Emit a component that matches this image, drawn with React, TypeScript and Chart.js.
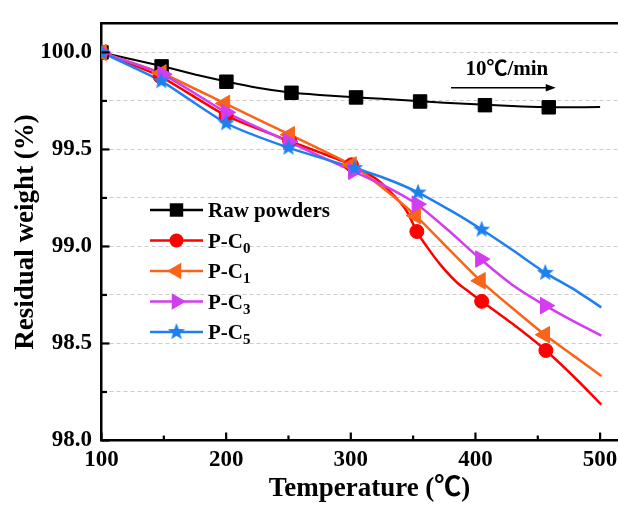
import React, { useEffect, useRef } from 'react';
import { Chart, registerables } from 'chart.js';

Chart.register(...registerables);

// ---------- data (temperature in ℃, residual weight in %) ----------
const rawTemp = [100, 125, 150, 175, 200, 225, 250, 275, 300, 325, 350, 375, 400, 425, 450, 475, 500];
const rawWeight = [100.0, 99.963, 99.927, 99.886, 99.85, 99.818, 99.795, 99.781, 99.77, 99.761, 99.751, 99.741, 99.733, 99.725, 99.719, 99.717, 99.719];
const rawMarkTemp = [100, 148.2, 200.2, 252.4, 304.2, 355.6, 407.6, 458.8];
const rawMarkWeight = [100.0, 99.928, 99.849, 99.792, 99.768, 99.747, 99.728, 99.717];

const c0Temp = [100, 147, 200, 251, 275, 300.5, 320, 335, 345, 353, 362, 372, 385, 395, 405, 430, 456.5, 480, 501];
const c0Weight = [100.0, 99.877, 99.674, 99.543, 99.485, 99.421, 99.35, 99.26, 99.18, 99.077, 98.99, 98.905, 98.815, 98.765, 98.717, 98.6, 98.464, 98.322, 98.185];
const c0MarkTemp = [100, 147, 200, 251, 300.5, 353, 405, 456.5];
const c0MarkWeight = [100.0, 99.877, 99.674, 99.543, 99.421, 99.077, 98.717, 98.464];

const c1Temp = [100, 148, 199, 251, 300.5, 325, 352, 378, 404, 430, 455.6, 478, 501];
const c1Weight = [100.0, 99.894, 99.737, 99.576, 99.42, 99.305, 99.159, 98.99, 98.823, 98.68, 98.545, 98.44, 98.332];
const c1MarkTemp = [100, 148, 199, 251, 300.5, 352, 404, 455.6];
const c1MarkWeight = [100.0, 99.894, 99.737, 99.576, 99.42, 99.159, 98.823, 98.545];

const c3Temp = [100, 149, 200, 250, 302, 328, 353, 378, 404, 430, 456, 480, 501];
const c3Weight = [100.0, 99.887, 99.691, 99.54, 99.387, 99.31, 99.218, 99.085, 98.935, 98.8, 98.695, 98.61, 98.54];
const c3MarkTemp = [100, 149, 200, 250, 302, 353, 404, 456];
const c3MarkWeight = [100.0, 99.887, 99.691, 99.54, 99.387, 99.218, 98.935, 98.695];

const c5Temp = [100, 148, 200, 250, 303, 330, 354, 382, 405, 430, 456, 480, 501];
const c5Weight = [100.0, 99.852, 99.635, 99.509, 99.404, 99.345, 99.278, 99.178, 99.087, 98.98, 98.864, 98.775, 98.686];
const c5MarkTemp = [100, 148, 200, 250, 303, 354, 405, 456];
const c5MarkWeight = [100.0, 99.852, 99.635, 99.509, 99.404, 99.278, 99.087, 98.864];

const seriesLabels = ['Raw powders', 'P-C₀', 'P-C₁', 'P-C₃', 'P-C₅'];
const seriesColors = ['#000000', '#ff0000', '#fa6419', '#d43cf0', '#1e80f0'];

const xTitle = 'Temperature (℃)';
const yTitle = 'Residual weight (%)';
const rateLabel = '10℃/min';
const rateArrowFrom = 380.4;
const rateArrowTo = 464.4;
const rateArrowWeight = 99.818;
const rateTextTemp = 425.2;
const rateTextWeight = 99.882;

const xMin = 100;
const xMax = 530;
const yMin = 98.0;
const yMax = 100.15;

const SERIF = '"Liberation Serif", "Times New Roman", "Noto Sans CJK SC", serif';
const SUBS = '₀₁₂₃₄₅₆₇₈₉';

function makeStar(color: string, outer: number, inner: number) {
  const size = Math.ceil(outer * 2 + 2);
  const c = document.createElement('canvas');
  c.width = size;
  c.height = size;
  const g = c.getContext('2d')!;
  g.beginPath();
  for (let i = 0; i < 10; i++) {
    const r = i % 2 === 0 ? outer : inner;
    const a = -Math.PI / 2 + (i * Math.PI) / 5;
    g.lineTo(size / 2 + r * Math.cos(a), size / 2 + r * Math.sin(a));
  }
  g.closePath();
  g.fillStyle = color;
  g.fill();
  return c;
}

type Marker = { style: any; rotation: number; radius: number };

function drawMarker(ctx: CanvasRenderingContext2D, m: Marker, x: number, y: number, color: string) {
  ctx.save();
  ctx.fillStyle = color;
  ctx.strokeStyle = color;
  ctx.lineWidth = 1;
  ctx.translate(x, y);
  ctx.rotate((m.rotation * Math.PI) / 180);
  if (typeof m.style !== 'string') {
    ctx.drawImage(m.style, -m.style.width / 2, -m.style.height / 2);
  } else if (m.style === 'rect') {
    const s = m.radius * Math.SQRT1_2;
    ctx.fillRect(-s, -s, 2 * s, 2 * s);
  } else if (m.style === 'circle') {
    ctx.beginPath();
    ctx.arc(0, 0, m.radius, 0, Math.PI * 2);
    ctx.fill();
  } else if (m.style === 'triangle') {
    ctx.beginPath();
    let a = 0;
    for (let k = 0; k < 3; k++) {
      ctx.lineTo(Math.sin(a) * m.radius, -Math.cos(a) * m.radius);
      a += (2 * Math.PI) / 3;
    }
    ctx.closePath();
    ctx.fill();
  }
  ctx.restore();
}

export default function App() {
  const ref = useRef<HTMLCanvasElement>(null);

  useEffect(() => {
    const canvas = ref.current!;
    const star = makeStar(seriesColors[4], 9, 3.8);
    const markers: Marker[] = [
      { style: 'rect', rotation: 0, radius: 9.5 },
      { style: 'circle', rotation: 0, radius: 7 },
      { style: 'triangle', rotation: -90, radius: 9.5 },
      { style: 'triangle', rotation: 90, radius: 9.5 },
      { style: star, rotation: 0, radius: 9 },
    ];
    const lines = [
      [rawTemp, rawWeight],
      [c0Temp, c0Weight],
      [c1Temp, c1Weight],
      [c3Temp, c3Weight],
      [c5Temp, c5Weight],
    ];
    const marks = [
      [rawMarkTemp, rawMarkWeight],
      [c0MarkTemp, c0MarkWeight],
      [c1MarkTemp, c1MarkWeight],
      [c3MarkTemp, c3MarkWeight],
      [c5MarkTemp, c5MarkWeight],
    ];
    const toXY = (t: number[], w: number[]) => t.map((x, i) => ({ x, y: w[i] }));
    const datasets: any[] = [];
    lines.forEach(([t, w], i) =>
      datasets.push({
        label: seriesLabels[i],
        data: toXY(t, w),
        borderColor: seriesColors[i],
        backgroundColor: seriesColors[i],
        borderWidth: i === 0 ? 2 : 2.5,
        pointRadius: 0,
        pointHoverRadius: 0,
        fill: false,
        tension: 0.2,
        order: 20 - i,
      })
    );
    marks.forEach(([t, w], i) =>
      datasets.push({
        label: seriesLabels[i] + ' symbols',
        data: toXY(t, w),
        showLine: false,
        pointStyle: markers[i].style,
        pointRotation: markers[i].rotation,
        pointRadius: markers[i].radius,
        pointHoverRadius: markers[i].radius,
        pointBackgroundColor: seriesColors[i],
        pointBorderColor: seriesColors[i],
        pointBorderWidth: 1,
        order: 10 - i,
      })
    );

    const framePlugin = {
      id: 'frameTicks',
      afterDraw(chart: any) {
        const { ctx, chartArea } = chart;
        const { left, right, top, bottom } = chartArea;
        const xs = chart.scales.x;
        const ys = chart.scales.y;
        ctx.save();
        ctx.strokeStyle = '#000';
        ctx.lineWidth = 2.5;
        ctx.beginPath();
        ctx.moveTo(left - 1.25, top);
        ctx.lineTo(right, top);
        ctx.stroke();
        ctx.lineWidth = 2.2;
        xs.ticks.forEach((t: any) => {
          const px = xs.getPixelForValue(t.value);
          const len = Math.abs(t.value % 100) < 1e-6 ? 8 : 5;
          ctx.beginPath();
          ctx.moveTo(px, bottom);
          ctx.lineTo(px, bottom - len);
          ctx.stroke();
        });
        ys.ticks.forEach((t: any) => {
          const py = ys.getPixelForValue(t.value);
          const major = Math.abs(t.value * 2 - Math.round(t.value * 2)) < 1e-6;
          const len = major ? 8 : 5.5;
          ctx.beginPath();
          ctx.moveTo(left, py);
          ctx.lineTo(left + len, py);
          ctx.stroke();
        });
        ctx.restore();
      },
    };

    const legendPlugin = {
      id: 'seriesLegend',
      afterDraw(chart: any) {
        const ctx: CanvasRenderingContext2D = chart.ctx;
        const x0 = 150;
        const x1 = 203;
        const textX = 208;
        const rowY = 210;
        const gap = 30.5;
        ctx.save();
        seriesLabels.forEach((label, i) => {
          const y = rowY + i * gap;
          ctx.strokeStyle = seriesColors[i];
          ctx.lineWidth = 2.5;
          ctx.beginPath();
          ctx.moveTo(x0, y);
          ctx.lineTo(x1, y);
          ctx.stroke();
          drawMarker(ctx, markers[i], (x0 + x1) / 2, y, seriesColors[i]);
          ctx.fillStyle = '#000';
          ctx.textBaseline = 'alphabetic';
          ctx.textAlign = 'left';
          let x = textX;
          const base = y + 7;
          let run = '';
          let runSub = false;
          const flush = () => {
            if (!run) return;
            ctx.font = runSub ? `bold 15px ${SERIF}` : `bold 21px ${SERIF}`;
            ctx.fillText(run, x, runSub ? base + 5 : base);
            x += ctx.measureText(run).width;
            run = '';
          };
          for (const ch of label) {
            const si = SUBS.indexOf(ch);
            const isSub = si >= 0;
            if (isSub !== runSub) {
              flush();
              runSub = isSub;
            }
            run += isSub ? String(si) : ch;
          }
          flush();
        });
        ctx.restore();
      },
    };

    const notePlugin = {
      id: 'rateNote',
      afterDraw(chart: any) {
        const ctx: CanvasRenderingContext2D = chart.ctx;
        const xs = chart.scales.x;
        const ys = chart.scales.y;
        const ax0 = xs.getPixelForValue(rateArrowFrom);
        const ax1 = xs.getPixelForValue(rateArrowTo);
        const ay = ys.getPixelForValue(rateArrowWeight);
        ctx.save();
        ctx.strokeStyle = '#000';
        ctx.fillStyle = '#000';
        ctx.lineWidth = 1.6;
        ctx.beginPath();
        ctx.moveTo(ax0, ay);
        ctx.lineTo(ax1 - 6, ay);
        ctx.stroke();
        ctx.beginPath();
        ctx.moveTo(ax1, ay);
        ctx.lineTo(ax1 - 10, ay - 3.8);
        ctx.lineTo(ax1 - 10, ay + 3.8);
        ctx.closePath();
        ctx.fill();
        ctx.font = `bold 21px ${SERIF}`;
        ctx.textAlign = 'center';
        ctx.textBaseline = 'alphabetic';
        ctx.fillText(rateLabel, xs.getPixelForValue(rateTextTemp), ys.getPixelForValue(rateTextWeight));
        ctx.restore();
      },
    };

    const tickFont = { family: SERIF, size: 23, weight: 'bold' as const };
    const titleFont = { family: SERIF, size: 27, weight: 'bold' as const };

    const chart = new Chart(canvas, {
      type: 'line',
      data: { datasets },
      options: {
        responsive: false,
        animation: false,
        events: [],
        layout: { padding: { top: 16, right: 9, bottom: 0, left: 0 } },
        plugins: {
          legend: { display: false },
          tooltip: { enabled: false },
          title: { display: false },
        },
        scales: {
          x: {
            type: 'linear',
            position: 'bottom',
            min: xMin,
            max: xMax,
            border: { display: true, color: '#000', width: 2.5 },
            grid: { display: false, drawTicks: false },
            ticks: {
              stepSize: 50,
              includeBounds: false,
              autoSkip: false,
              maxRotation: 0,
              padding: 6,
              color: '#000',
              font: tickFont,
              callback: (v: any) => (Math.abs(Number(v) % 100) < 1e-6 ? String(v) : ''),
            },
            title: {
              display: true,
              text: xTitle,
              color: '#000',
              font: titleFont,
              padding: { top: 0, bottom: 2 },
            },
            afterFit: (s: any) => {
              s.height = 66.5;
            },
          },
          y: {
            type: 'linear',
            min: yMin,
            max: yMax,
            border: { display: true, color: '#000', width: 2.5, dash: [4, 3] },
            grid: {
              drawTicks: false,
              lineWidth: 1,
              color: (c: any) => (c.tick && c.tick.value <= yMin + 1e-6 ? 'rgba(0,0,0,0)' : '#cccccc'),
            },
            ticks: {
              stepSize: 0.25,
              includeBounds: false,
              autoSkip: false,
              padding: 9.5,
              color: '#000',
              font: tickFont,
              callback: (v: any) => {
                const n = Number(v);
                return Math.abs(n * 2 - Math.round(n * 2)) < 1e-6 ? n.toFixed(1) : '';
              },
            },
            title: {
              display: true,
              text: yTitle,
              color: '#000',
              font: titleFont,
              padding: { top: 10, bottom: 0 },
            },
            afterFit: (s: any) => {
              s.width = 101.5;
            },
          },
        },
      } as any,
      plugins: [framePlugin, legendPlugin, notePlugin],
    });
    return () => chart.destroy();
  }, []);

  return (
    <div style={{ position: 'fixed', left: 0, top: 0, width: 618, height: 507, overflow: 'hidden', background: '#fff' }}>
      <canvas ref={ref} width={648} height={507} style={{ display: 'block' }} />
    </div>
  );
}
